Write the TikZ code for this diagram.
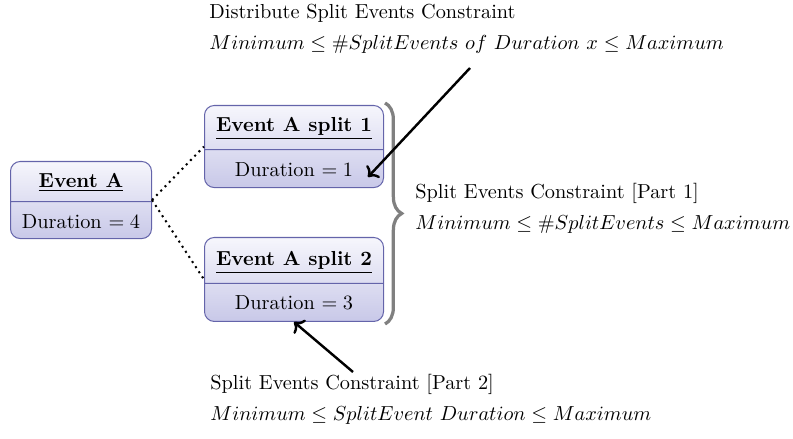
\documentclass[tikz,border=0pt]{standalone}
\usetikzlibrary{shapes.multipart,decorations.pathreplacing,arrows.meta}

\definecolor{umlborder}{RGB}{100,100,170}
\definecolor{umltop}{RGB}{246,246,252}
\definecolor{umlbottom}{RGB}{200,200,232}
\definecolor{bracegray}{RGB}{128,128,128}

% a part of a class box with fixed height above and depth below the baseline
\newcommand{\partstrut}[2]{\rule[-#2]{0pt}{\dimexpr#1+#2\relax}}

\tikzset{
  umlclass/.style={rectangle split, rectangle split parts=2,
    rectangle split part align=center,
    draw=umlborder, line width=0.5pt, rounded corners=4.8pt,
    top color=umltop, bottom color=umlbottom,
    inner xsep=0pt, inner ysep=0pt},
  dotline/.style={line width=1pt, dotted},
  bracestyle/.style={decorate, decoration={brace, amplitude=8.2pt},
    draw=bracegray, line width=1.6pt},
  pointer/.style={->, line width=1.2pt},
  lbl/.style={anchor=base west, inner sep=0pt}
}

\begin{document}
\begin{tikzpicture}[x=0.4926pt, y=-0.4926pt]
  \useasboundingbox (0,0) rectangle (793,439);

  % class boxes
  \node[umlclass, minimum width=69.46pt, anchor=north west] (A) at (10,161)
    {\partstrut{12.32pt}{6.90pt}\underline{\textbf{Event A}}
     \nodepart{two}\partstrut{12.81pt}{4.93pt}Duration $= 4$};
  \node[umlclass, minimum width=88.18pt, anchor=north west] (S1) at (204,105)
    {\partstrut{12.56pt}{8.62pt}\underline{\textbf{Event A split 1}}
     \nodepart{two}\partstrut{12.81pt}{5.42pt}Duration $= 1$};
  \node[umlclass, minimum width=88.18pt, anchor=north west] (S2) at (204,237)
    {\partstrut{13.5pt}{8.62pt}\underline{\textbf{Event A split 2}}
     \nodepart{two}\partstrut{12.81pt}{5.42pt}Duration $= 3$};

  % split links
  \draw[dotline] (A.east) -- (S1.west);
  \draw[dotline] (A.east) -- (S2.west);

  % brace over both splits
  \draw[bracestyle] ([xshift=0.5pt,yshift=1pt]S1.north east)
    -- ([xshift=0.5pt,yshift=-1pt]S2.south east);

  % constraint labels
  \node[lbl] (distTitle) at (209,19) {Distribute Split Events Constraint};
  \node[lbl] (distRule) at (209,50)
    {$Minimum \leq \#SplitEvents\ of\ Duration\ x \leq Maximum$};
  \node[lbl] (partOneTitle) at (415,199) {Split Events Constraint [Part 1]};
  \node[lbl] (partOneRule) at (415,230)
    {$Minimum \leq \#SplitEvents \leq Maximum$};
  \node[lbl] (partTwoTitle) at (210,389) {Split Events Constraint [Part 2]};
  \node[lbl] (partTwoRule) at (210,420)
    {$Minimum \leq SplitEvent\ Duration \leq Maximum$};

  % pointers
  \coordinate (distFrom) at (470,68);
  \coordinate (distTo) at (368,177);
  \coordinate (partTwoFrom) at (353,372);
  \draw[pointer] (distFrom) -- (distTo);
  \draw[pointer] (partTwoFrom) -- (S2.south);
\end{tikzpicture}
\end{document}
